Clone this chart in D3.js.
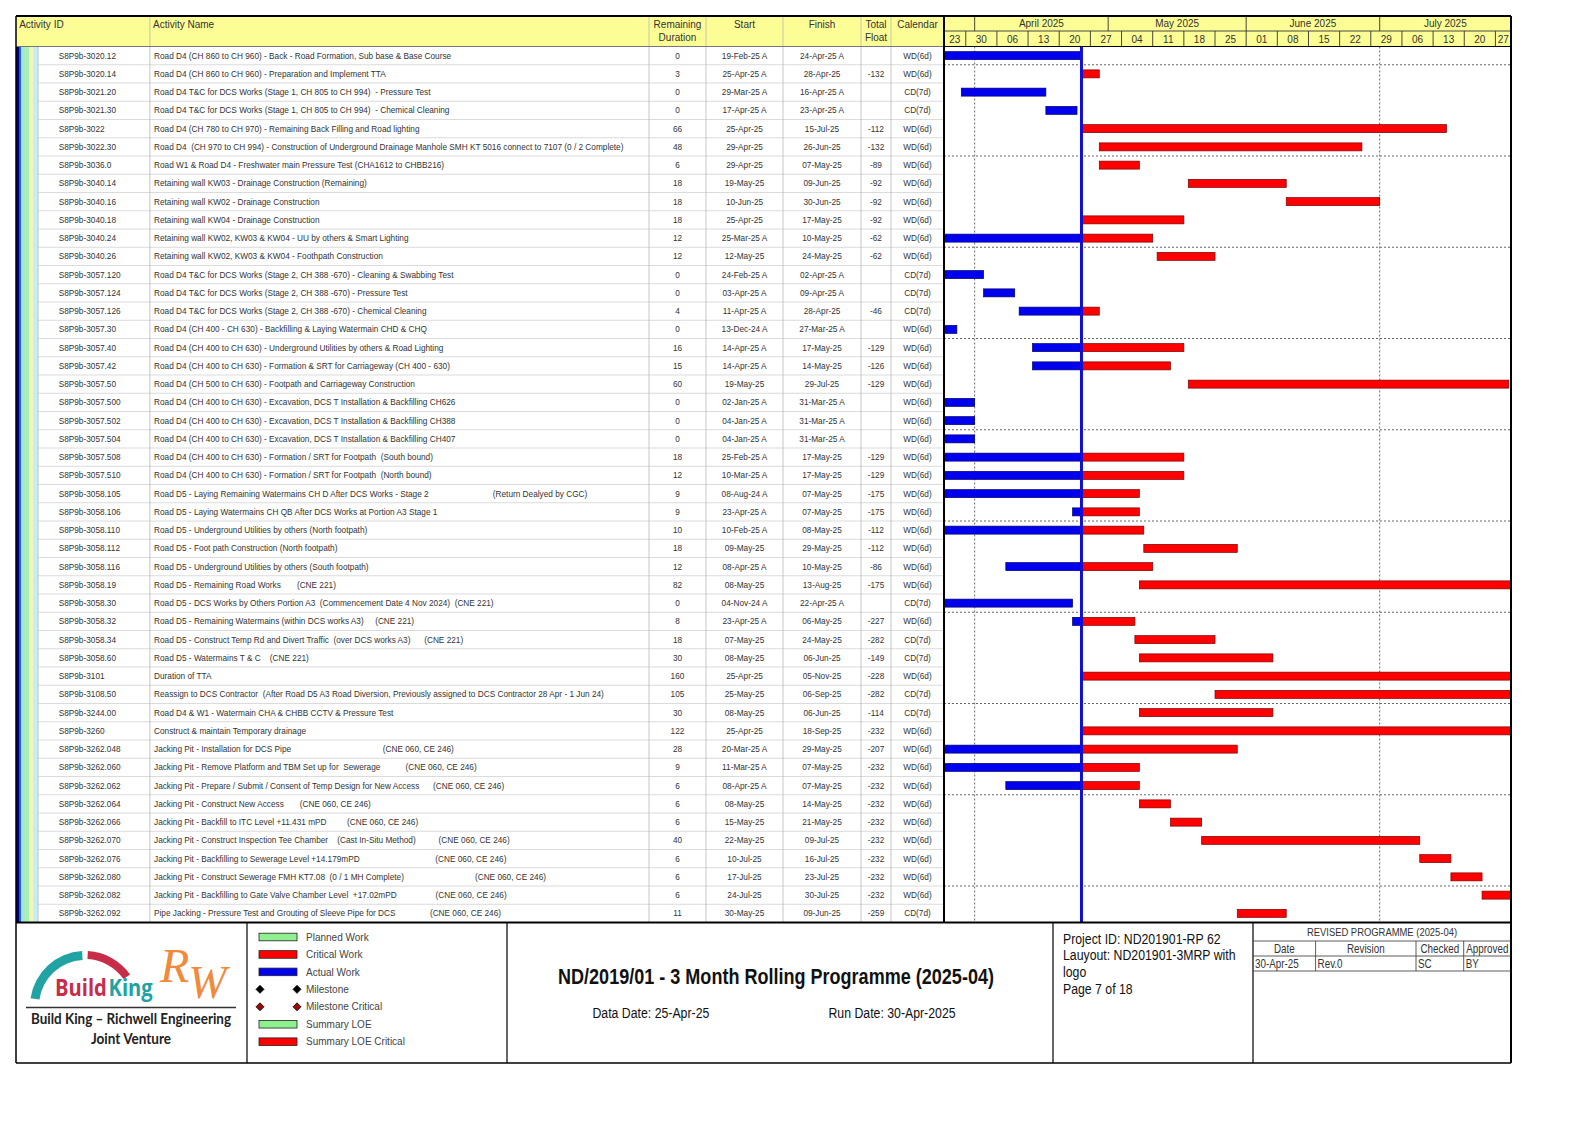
<!DOCTYPE html>
<html><head><meta charset="utf-8">
<script src="https://cdn.jsdelivr.net/npm/d3@7"></script>
<style>
html,body{margin:0;padding:0;background:#fff;}
svg{display:block;font-family:"Liberation Sans",Arial,sans-serif;}
text{white-space:pre;}
</style></head><body>
<svg id="c" width="1588" height="1123"></svg>
<script>
const S = n => " ".repeat(n);

// ---------------- DATA ----------------
const ids = ["S8P9b-3020.12","S8P9b-3020.14","S8P9b-3021.20","S8P9b-3021.30","S8P9b-3022","S8P9b-3022.30","S8P9b-3036.0","S8P9b-3040.14","S8P9b-3040.16","S8P9b-3040.18","S8P9b-3040.24","S8P9b-3040.26","S8P9b-3057.120","S8P9b-3057.124","S8P9b-3057.126","S8P9b-3057.30","S8P9b-3057.40","S8P9b-3057.42","S8P9b-3057.50","S8P9b-3057.500","S8P9b-3057.502","S8P9b-3057.504","S8P9b-3057.508","S8P9b-3057.510","S8P9b-3058.105","S8P9b-3058.106","S8P9b-3058.110","S8P9b-3058.112","S8P9b-3058.116","S8P9b-3058.19","S8P9b-3058.30","S8P9b-3058.32","S8P9b-3058.34","S8P9b-3058.60","S8P9b-3101","S8P9b-3108.50","S8P9b-3244.00","S8P9b-3260","S8P9b-3262.048","S8P9b-3262.060","S8P9b-3262.062","S8P9b-3262.064","S8P9b-3262.066","S8P9b-3262.070","S8P9b-3262.076","S8P9b-3262.080","S8P9b-3262.082","S8P9b-3262.092"];

const names = [
"Road D4 (CH 860 to CH 960) - Back - Road Formation, Sub base & Base Course",
"Road D4 (CH 860 to CH 960) - Preparation and Implement TTA",
"Road D4 T&C for DCS Works (Stage 1, CH 805 to CH 994)  - Pressure Test",
"Road D4 T&C for DCS Works (Stage 1, CH 805 to CH 994)  - Chemical Cleaning",
"Road D4 (CH 780 to CH 970) - Remaining Back Filling and Road lighting",
"Road D4  (CH 970 to CH 994) - Construction of Underground Drainage Manhole SMH KT 5016 connect to 7107 (0 / 2 Complete)",
"Road W1 & Road D4 - Freshwater main Pressure Test (CHA1612 to CHBB216)",
"Retaining wall KW03 - Drainage Construction (Remaining)",
"Retaining wall KW02 - Drainage Construction",
"Retaining wall KW04 - Drainage Construction",
"Retaining wall KW02, KW03 & KW04 - UU by others & Smart Lighting",
"Retaining wall KW02, KW03 & KW04 - Foothpath Construction",
"Road D4 T&C for DCS Works (Stage 2, CH 388 -670) - Cleaning & Swabbing Test",
"Road D4 T&C for DCS Works (Stage 2, CH 388 -670) - Pressure Test",
"Road D4 T&C for DCS Works (Stage 2, CH 388 -670) - Chemical Cleaning",
"Road D4 (CH 400 - CH 630) - Backfilling & Laying Watermain CHD & CHQ",
"Road D4 (CH 400 to CH 630) - Underground Utilities by others & Road Lighting",
"Road D4 (CH 400 to CH 630) - Formation & SRT for Carriageway (CH 400 - 630)",
"Road D4 (CH 500 to CH 630) - Footpath and Carriageway Construction",
"Road D4 (CH 400 to CH 630) - Excavation, DCS T Installation & Backfilling CH626",
"Road D4 (CH 400 to CH 630) - Excavation, DCS T Installation & Backfilling CH388",
"Road D4 (CH 400 to CH 630) - Excavation, DCS T Installation & Backfilling CH407",
"Road D4 (CH 400 to CH 630) - Formation / SRT for Footpath  (South bound)",
"Road D4 (CH 400 to CH 630) - Formation / SRT for Footpath  (North bound)",
"Road D5 - Laying Remaining Watermains CH D After DCS Works - Stage 2" + S(28) + "(Return Dealyed by CGC)",
"Road D5 - Laying Watermains CH QB After DCS Works at Portion A3 Stage 1",
"Road D5 - Underground Utilities by others (North footpath)",
"Road D5 - Foot path Construction (North footpath)",
"Road D5 - Underground Utilities by others (South footpath)",
"Road D5 - Remaining Road Works" + S(7) + "(CNE 221)",
"Road D5 - DCS Works by Others Portion A3  (Commencement Date 4 Nov 2024)  (CNE 221)",
"Road D5 - Remaining Watermains (within DCS works A3)" + S(5) + "(CNE 221)",
"Road D5 - Construct Temp Rd and Divert Traffic  (over DCS works A3)" + S(6) + "(CNE 221)",
"Road D5 - Watermains T & C" + S(4) + "(CNE 221)",
"Duration of TTA",
"Reassign to DCS Contractor  (After Road D5 A3 Road Diversion, Previously assigned to DCS Contractor 28 Apr - 1 Jun 24)",
"Road D4 & W1 - Watermain CHA & CHBB CCTV & Pressure Test",
"Construct & maintain Temporary drainage",
"Jacking Pit - Installation for DCS Pipe" + S(40) + "(CNE 060, CE 246)",
"Jacking Pit - Remove Platform and TBM Set up for  Sewerage" + S(11) + "(CNE 060, CE 246)",
"Jacking Pit - Prepare / Submit / Consent of Temp Design for New Access" + S(6) + "(CNE 060, CE 246)",
"Jacking Pit - Construct New Access" + S(7) + "(CNE 060, CE 246)",
"Jacking Pit - Backfill to ITC Level +11.431 mPD" + S(9) + "(CNE 060, CE 246)",
"Jacking Pit - Construct Inspection Tee Chamber" + S(4) + "(Cast In-Situ Method)" + S(10) + "(CNE 060, CE 246)",
"Jacking Pit - Backfilling to Sewerage Level +14.179mPD" + S(33) + "(CNE 060, CE 246)",
"Jacking Pit - Construct Sewerage FMH KT7.08  (0 / 1 MH Complete)" + S(31) + "(CNE 060, CE 246)",
"Jacking Pit - Backfilling to Gate Valve Chamber Level  +17.02mPD" + S(17) + "(CNE 060, CE 246)",
"Pipe Jacking - Pressure Test and Grouting of Sleeve Pipe for DCS" + S(15) + "(CNE 060, CE 246)"
];

const remDur = [0,3,0,0,66,48,6,18,18,18,12,12,0,0,4,0,16,15,60,0,0,0,18,12,9,9,10,18,12,82,0,8,18,30,160,105,30,122,28,9,6,6,6,40,6,6,6,11];

const starts = ["19-Feb-25 A","25-Apr-25 A","29-Mar-25 A","17-Apr-25 A","25-Apr-25","29-Apr-25","29-Apr-25","19-May-25","10-Jun-25","25-Apr-25","25-Mar-25 A","12-May-25","24-Feb-25 A","03-Apr-25 A","11-Apr-25 A","13-Dec-24 A","14-Apr-25 A","14-Apr-25 A","19-May-25","02-Jan-25 A","04-Jan-25 A","04-Jan-25 A","25-Feb-25 A","10-Mar-25 A","08-Aug-24 A","23-Apr-25 A","10-Feb-25 A","09-May-25","08-Apr-25 A","08-May-25","04-Nov-24 A","23-Apr-25 A","07-May-25","08-May-25","25-Apr-25","25-May-25","08-May-25","25-Apr-25","20-Mar-25 A","11-Mar-25 A","08-Apr-25 A","08-May-25","15-May-25","22-May-25","10-Jul-25","17-Jul-25","24-Jul-25","30-May-25"];

const finishes = ["24-Apr-25 A","28-Apr-25","16-Apr-25 A","23-Apr-25 A","15-Jul-25","26-Jun-25","07-May-25","09-Jun-25","30-Jun-25","17-May-25","10-May-25","24-May-25","02-Apr-25 A","09-Apr-25 A","28-Apr-25","27-Mar-25 A","17-May-25","14-May-25","29-Jul-25","31-Mar-25 A","31-Mar-25 A","31-Mar-25 A","17-May-25","17-May-25","07-May-25","07-May-25","08-May-25","29-May-25","10-May-25","13-Aug-25","22-Apr-25 A","06-May-25","24-May-25","06-Jun-25","05-Nov-25","06-Sep-25","06-Jun-25","18-Sep-25","29-May-25","07-May-25","07-May-25","14-May-25","21-May-25","09-Jul-25","16-Jul-25","23-Jul-25","30-Jul-25","09-Jun-25"];

const floats = ["","-132","","","-112","-132","-89","-92","-92","-92","-62","-62","","","-46","","-129","-126","-129","","","","-129","-129","-175","-175","-112","-112","-86","-175","","-227","-282","-149","-228","-282","-114","-232","-207","-232","-232","-232","-232","-232","-232","-232","-232","-259"];

const calendars = ["WD(6d)","WD(6d)","CD(7d)","CD(7d)","WD(6d)","WD(6d)","WD(6d)","WD(6d)","WD(6d)","WD(6d)","WD(6d)","WD(6d)","CD(7d)","CD(7d)","CD(7d)","WD(6d)","WD(6d)","WD(6d)","WD(6d)","WD(6d)","WD(6d)","WD(6d)","WD(6d)","WD(6d)","WD(6d)","WD(6d)","WD(6d)","WD(6d)","WD(6d)","WD(6d)","CD(7d)","WD(6d)","CD(7d)","CD(7d)","WD(6d)","CD(7d)","CD(7d)","WD(6d)","WD(6d)","WD(6d)","WD(6d)","WD(6d)","WD(6d)","WD(6d)","WD(6d)","WD(6d)","WD(6d)","CD(7d)"];

const columnHeaders = [["Activity ID"],["Activity Name"],["Remaining","Duration"],["Start"],["Finish"],["Total","Float"],["Calendar"]];
const dataDate = "25-Apr-25";
const timelineStart = "25-Mar-25";
const timelineEnd = "30-Jul-25";

const legendLabels = ["Planned Work","Critical Work","Actual Work","Milestone","Milestone Critical","Summary LOE","Summary LOE Critical"];
const titleText = "ND/2019/01 - 3 Month Rolling Programme (2025-04)";
const dataDateText = "Data Date: 25-Apr-25";
const runDateText = "Run Date: 30-Apr-2025";
const projectLines = ["Project ID: ND201901-RP 62","Lauyout: ND201901-3MRP with","logo","Page 7 of 18"];
const revisionTitle = "REVISED PROGRAMME (2025-04)";
const revisionHeaders = ["Date","Revision","Checked","Approved"];
const revisionRow = ["30-Apr-25","Rev.0","SC","BY"];
const logoLine1 = "Build King \u2013 Richwell Engineering";
const logoLine2 = "Joint Venture";

// ---------------- LAYOUT ----------------
const svg = d3.select("#c");
const L = 16, R = 1511, T = 16, HB = 46.5, RH = 18.25, MID = 31;
const n = ids.length;
const TB = HB + n * RH;
const FB = 1063;
const colX = [38, 149.9, 649, 706, 783, 861, 891, 944];
const GX = colX[7];
const YEL = "#fdfd96";
const TXT = "#333";

svg.append("rect").attr("width",1588).attr("height",1123).attr("fill","#fff");
svg.append("rect").attr("x",L).attr("y",T).attr("width",R-L).attr("height",HB-T).attr("fill",YEL);

const bands = [[16,19,"#00007a"],[19,21,"#2060e0"],[21,24,"#9fe6f2"],[24,29,"#a8f0b6"],[29,33,"#f6f6b4"],[33,38,"#c2f0f8"]];
bands.forEach(b => svg.append("rect").attr("x",b[0]).attr("y",HB).attr("width",b[1]-b[0]).attr("height",TB-HB).attr("fill",b[2]));

const rowsIdx = d3.range(n);
const yRow = d3.scaleLinear().domain([0,n]).range([HB,TB]);
svg.append("g").selectAll("line").data(d3.range(1,n)).join("line")
  .attr("x1",colX[0]).attr("x2",GX).attr("y1",d=>yRow(d)).attr("y2",d=>yRow(d))
  .attr("stroke","#d2d2d2").attr("stroke-width",0.8);
svg.append("g").selectAll("line").data(colX.slice(0,7)).join("line")
  .attr("x1",d=>d).attr("x2",d=>d).attr("y1",(d,i)=>i===0?HB:T).attr("y2",TB)
  .attr("stroke","#b8b8b8").attr("stroke-width",0.8);

columnHeaders.forEach((h,i) => {
  const left = i < 2;
  const xx = left ? colX[i] + (i===0 ? -18.8 : 3.1) : (colX[i]+colX[i+1])/2;
  h.forEach((s,j) => svg.append("text").attr("x",xx).attr("y",28 + j*13)
    .attr("text-anchor",left?"start":"middle").attr("font-size",10).attr("fill",TXT).text(s));
});

const body = svg.append("g").attr("font-size",8.25).attr("fill",TXT);
const cy = i => yRow(i) + RH/2 + 2.9;
body.selectAll(".id").data(ids).join("text").attr("x",58.7).attr("y",(d,i)=>cy(i)).text(d=>d);
body.selectAll(".nm").data(names).join("text").attr("x",154).attr("y",(d,i)=>cy(i)).text(d=>d);
const centerCols = [[remDur,2],[starts,3],[finishes,4],[floats,5],[calendars,6]];
centerCols.forEach(([arr,c]) => {
  body.append("g").selectAll("text").data(arr).join("text")
    .attr("x",(colX[c]+colX[c+1])/2).attr("y",(d,i)=>cy(i)).attr("text-anchor","middle").text(d=>d);
});

// ---------------- GANTT ----------------
const parse = d3.timeParse("%d-%b-%y");
const dd = parse(dataDate);
const x = d3.scaleTime().domain([parse(timelineStart), d3.timeHour.offset(parse(timelineEnd),12)]).range([943.5, R]);
const [d0,d1] = x.domain();

const defs = svg.append("defs");
defs.append("clipPath").attr("id","gbody").append("rect").attr("x",GX).attr("y",HB).attr("width",R-GX).attr("height",TB-HB);
defs.append("clipPath").attr("id","ghead").append("rect").attr("x",GX).attr("y",T).attr("width",R-GX).attr("height",HB-T);

const head = svg.append("g").attr("clip-path","url(#ghead)");
const months = d3.timeMonth.range(d3.timeMonth.floor(d0), d1);
const fmtMonth = d3.timeFormat("%B %Y");
months.forEach(m => {
  const a = Math.max(x(m), GX), b = Math.min(x(d3.timeMonth.offset(m,1)), R);
  if (x(m) > GX) head.append("line").attr("x1",x(m)).attr("x2",x(m)).attr("y1",T).attr("y2",MID).attr("stroke","#333").attr("stroke-width",0.9);
  if (b - a > 60) head.append("text").attr("x",(a+b)/2).attr("y",27.2).attr("text-anchor","middle").attr("font-size",10).attr("fill",TXT).text(fmtMonth(m));
});
const weeks = d3.timeWeek.range(d3.timeWeek.floor(d0), d1);
const fmtDay = d3.timeFormat("%d");
weeks.forEach(w => {
  const a = Math.max(x(w), GX), b = Math.min(x(d3.timeWeek.offset(w,1)), R);
  if (x(w) > GX) head.append("line").attr("x1",x(w)).attr("x2",x(w)).attr("y1",MID).attr("y2",HB).attr("stroke","#333").attr("stroke-width",0.9);
  head.append("text").attr("x",(a+b)/2).attr("y",43.2).attr("text-anchor","middle").attr("font-size",10).attr("fill",TXT).text(fmtDay(w));
});
svg.append("line").attr("x1",GX).attr("x2",R).attr("y1",MID).attr("y2",MID).attr("stroke","#333").attr("stroke-width",0.9);

const gb = svg.append("g").attr("clip-path","url(#gbody)");
const quarters = d3.timeMonth.every(3).range(d0, d1);
gb.selectAll(".q").data(quarters).join("line")
  .attr("x1",d=>x(d)).attr("x2",d=>x(d)).attr("y1",HB).attr("y2",TB)
  .attr("stroke","#666").attr("stroke-width",1).attr("stroke-dasharray","2,2");
gb.selectAll(".r5").data(rowsIdx.filter(i => i % 5 === 0 && i+1 < n)).join("line")
  .attr("x1",GX).attr("x2",R).attr("y1",d=>yRow(d+1)).attr("y2",d=>yRow(d+1))
  .attr("stroke","#666").attr("stroke-width",1).attr("stroke-dasharray","2,2");

const bars = [];
rowsIdx.forEach(i => {
  const sA = starts[i].endsWith(" A"), fA = finishes[i].endsWith(" A");
  const s = parse(starts[i].replace(" A","")), f = d3.timeDay.offset(parse(finishes[i].replace(" A","")),1);
  if (fA) bars.push({i, a:s, b:f, k:"actual"});
  else if (sA) { bars.push({i, a:s, b:dd, k:"actual"}); bars.push({i, a:dd, b:f, k:"critical"}); }
  else bars.push({i, a:s, b:f, k:"critical"});
});
const barStyle = {actual:["#0000ee","#00006a"], critical:["#ff0000","#7a0000"]};
gb.selectAll(".bar").data(bars.filter(d => x(d.b) > x(d.a))).join("rect")
  .attr("x",d=>x(d.a)).attr("width",d=>x(d.b)-x(d.a))
  .attr("y",d=>yRow(d.i)+RH/2-4).attr("height",8)
  .attr("fill",d=>barStyle[d.k][0]).attr("stroke",d=>barStyle[d.k][1]).attr("stroke-width",0.7);

svg.append("line").attr("x1",x(dd)).attr("x2",x(dd)).attr("y1",HB).attr("y2",TB).attr("stroke","#1010d8").attr("stroke-width",3);

// ---------------- FRAME ----------------
const ln = (x1,y1,x2,y2,c,w) => svg.append("line").attr("x1",x1).attr("y1",y1).attr("x2",x2).attr("y2",y2).attr("stroke",c).attr("stroke-width",w);
ln(L,T,R,T,"#000",2);
ln(L,HB,GX,HB,"#777",1);
ln(GX,HB,R,HB,"#000",1.2);
ln(L,T,L,FB,"#000",1.5);
ln(R,T,R,FB,"#000",2);
ln(GX,T,GX,TB,"#000",2);
ln(L,TB,R,TB,"#000",2);
ln(L,FB,R,FB,"#000",1.5);
[247, 507, 1053, 1253].forEach(v => ln(v,TB,v,FB,"#000",1.2));

// ---------------- FOOTER ----------------
function ntext(xx, yy, s, size, anchor, weight, fill) {
  return svg.append("text").attr("transform",`translate(${xx},${yy}) scale(0.82,1)`)
    .attr("font-size",size).attr("text-anchor",anchor||"start").attr("font-weight",weight||"normal")
    .attr("fill",fill||"#111").text(s);
}
ntext(776, 983.5, titleText, 22, "middle", "bold");
ntext(592.5, 1018, dataDateText, 15);
ntext(828.5, 1018, runDateText, 15);
projectLines.forEach((s,i) => ntext(1063, 943.5 + i*16.9, s, 15));

ntext(1382, 936, revisionTitle, 11.5, "middle", "normal", "#333");
[941, 956, 971].forEach(v => ln(1253, v, R, v, "#333", 0.8));
const revCols = [1253, 1315.6, 1416, 1463.7, R];
revCols.slice(1,4).forEach(v => ln(v, 941, v, 971, "#333", 0.8));
revisionHeaders.forEach((s,i) => ntext((revCols[i]+revCols[i+1])/2, 953, s, 12, "middle", "normal", "#333"));
revisionRow.forEach((s,i) => ntext(revCols[i]+2, 968, s, 12, "start", "normal", "#333"));

const legendStyle = {
  "Planned Work":["bar","#8ef08e"], "Critical Work":["bar","#ff0000"], "Actual Work":["bar","#0000ee"],
  "Milestone":["dia","#000"], "Milestone Critical":["dia","#9a0a0a"], "Summary LOE":["bar","#8ef08e"], "Summary LOE Critical":["bar","#ff0000"]
};
const lg = svg.append("g");
legendLabels.forEach((lab,i) => {
  const yy = 937 + i*17.45;
  const st = legendStyle[lab];
  if (st[0] === "bar") {
    lg.append("rect").attr("x",259).attr("y",yy-3.8).attr("width",38).attr("height",7.6)
      .attr("fill",st[1]).attr("stroke","#222").attr("stroke-width",0.8);
  } else {
    [260, 297].forEach(cx => lg.append("path").attr("d",`M${cx},${yy-4}L${cx+4},${yy}L${cx},${yy+4}L${cx-4},${yy}Z`)
      .attr("fill",st[1]).attr("stroke","#000").attr("stroke-width",0.8));
  }
  lg.append("text").attr("x",306).attr("y",yy+3.6).attr("font-size",10).attr("fill","#444").text(lab);
});

// logo
const lgo = svg.append("g");
const arc = d3.arc();
lgo.append("path").attr("transform","translate(85,1006)")
  .attr("d", arc({innerRadius:46, outerRadius:55, startAngle:-82*Math.PI/180, endAngle:-3*Math.PI/180}))
  .attr("fill","#21a3a3");
lgo.append("path").attr("transform","translate(85,1006)")
  .attr("d", arc({innerRadius:47, outerRadius:55, startAngle:3*Math.PI/180, endAngle:55*Math.PI/180}))
  .attr("fill","#c72c48");
const bk = lgo.append("text").attr("transform","translate(55,996) scale(0.84,1)")
  .attr("font-family","'Open Sans',sans-serif").attr("font-weight",700).attr("font-size",24);
bk.append("tspan").attr("fill","#c72c48").text("Build");
bk.append("tspan").attr("fill","#21a3a3").attr("dx",2).text("King");
const rw = lgo.append("text").attr("x",160).attr("y",982).attr("font-family","'Liberation Serif',serif")
  .attr("font-style","italic").attr("fill","#f08a3c");
rw.append("tspan").attr("font-size",48).text("R");
rw.append("tspan").attr("font-size",46).attr("dx",-1).attr("dy",16).text("W");
ln(26, 1007.5, 236, 1007.5, "#333", 1.5);
lgo.append("text").attr("x",131).attr("y",1023.5).attr("text-anchor","middle").attr("font-family","Lato,sans-serif")
  .attr("font-weight",700).attr("font-size",14.5).attr("fill","#222").attr("textLength",200).attr("lengthAdjust","spacingAndGlyphs").text(logoLine1);
lgo.append("text").attr("x",131).attr("y",1044).attr("text-anchor","middle").attr("font-family","Lato,sans-serif")
  .attr("font-weight",700).attr("font-size",14.5).attr("fill","#222").attr("textLength",80).attr("lengthAdjust","spacingAndGlyphs").text(logoLine2);
</script>
</body></html>
